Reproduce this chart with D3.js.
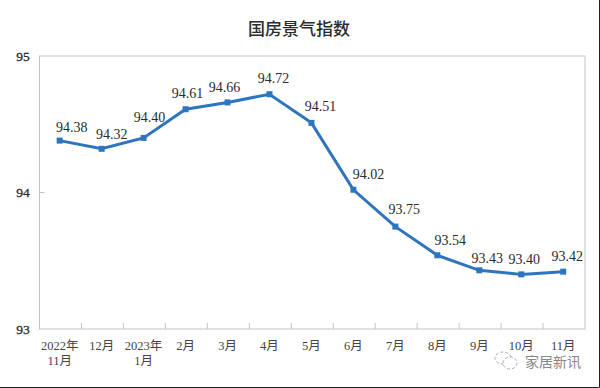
<!DOCTYPE html>
<html>
<head>
<meta charset="utf-8">
<script src="https://cdn.jsdelivr.net/npm/d3@7"></script>
<style>
    html, body { margin: 0; padding: 0; background: #fff; }
    svg { display: block; }
    text { font-family: "Liberation Serif", "Noto Sans CJK SC", serif; fill: #2b2b2b; }
</style>
</head>
<body>
<div id="chart"></div>
<script>
const title = "国房景气指数";
const categories = ["2022年|11月", "12月", "2023年|1月", "2月", "3月", "4月", "5月", "6月", "7月", "8月", "9月", "10月", "11月"];
const values = [94.38, 94.32, 94.40, 94.61, 94.66, 94.72, 94.51, 94.02, 93.75, 93.54, 93.43, 93.40, 93.42];
const yTicks = [93, 94, 95];
const watermark = "家居新讯";

// label nudges from each point
const labelDx = [12, 10, 6, 2, -3, 4, 9, 15, 9, 13, 8, 3, 4];
const labelDy = [-13, -14, -20, -16, -15, -16, -16, -15, -17, -15, -12, -15, -15];

const width = 600,
    height = 388;
const left = 39.5,
    right = 585,
    top_ = 56,
    bottom = 329;

const svg = d3.select("#chart").append("svg").attr("width", width).attr("height", height);

const x = d3.scaleBand().domain(categories).range([left, right]);
const y = d3.scaleLinear().domain([93, 95]).range([bottom, top_]);
// the original's points sit a little left of the band centre
const px = (d) => x(d) + x.bandwidth() / 2 - 0.8;

// --------------- Frame --------------- //

svg.append("rect")
    .attr("x", left).attr("y", top_)
    .attr("width", right - left).attr("height", bottom - top_)
    .attr("fill", "none").attr("stroke", "#c4c4c4").attr("stroke-width", 1);

// Photo edge of the original screenshot
svg.append("path")
    .attr("d", `M0,${height - 0.5}H${width - 0.5}V0`)
    .attr("fill", "none").attr("stroke", "#222").attr("stroke-width", 1);

// --------------- Axes --------------- //

const xAxis = svg.append("g").attr("transform", `translate(0,${bottom})`);
xAxis.selectAll("line")
    .data(categories.slice(0, -1))
    .join("line")
    .attr("x1", (d) => x(d) + x.bandwidth())
    .attr("x2", (d) => x(d) + x.bandwidth())
    .attr("y1", 0).attr("y2", -6)
    .attr("stroke", "#c4c4c4");

const xLabels = xAxis.selectAll("text")
    .data(categories)
    .join("text")
    .attr("text-anchor", "middle")
    .attr("font-size", 12.5)
    .style("fill", "#444");
xLabels.selectAll("tspan")
    .data((d) => d.split("|").map((t) => ({ t, c: d })))
    .join("tspan")
    .attr("x", (d) => px(d.c))
    .attr("y", (d, i) => 20.5 + i * 15)
    .text((d) => d.t);

svg.append("g")
    .selectAll("line")
    .data(yTicks.slice(1, -1))
    .join("line")
    .attr("x1", left).attr("x2", left + 5)
    .attr("y1", (d) => y(d)).attr("y2", (d) => y(d))
    .attr("stroke", "#c4c4c4");

svg.append("g")
    .selectAll("text")
    .data(yTicks)
    .join("text")
    .attr("x", 23)
    .attr("y", (d) => y(d) + 4.5)
    .attr("text-anchor", "middle")
    .attr("font-size", 13.5)
    .style("stroke", "#2b2b2b")
    .style("stroke-width", 0.3)
    .text((d) => d);

// --------------- Line --------------- //

const line = d3.line()
    .x((d, i) => px(categories[i]))
    .y((d) => y(d));

svg.append("path")
    .datum(values)
    .attr("d", line)
    .attr("fill", "none")
    .attr("stroke", "#2e75c0")
    .attr("stroke-width", 3);

svg.append("g")
    .selectAll("rect")
    .data(values)
    .join("rect")
    .attr("x", (d, i) => px(categories[i]) - 3)
    .attr("y", (d) => y(d) - 3)
    .attr("width", 6)
    .attr("height", 6)
    .attr("fill", "#2e75c0");

svg.append("g")
    .selectAll("text")
    .data(values)
    .join("text")
    .attr("x", (d, i) => px(categories[i]) + labelDx[i])
    .attr("y", (d, i) => y(d) + labelDy[i] + 4.5)
    .attr("text-anchor", "middle")
    .attr("font-size", 14)
    .text((d) => d.toFixed(2));

// --------------- Title and watermark --------------- //

svg.append("text")
    .attr("x", 299).attr("y", 35)
    .attr("text-anchor", "middle")
    .attr("font-size", 17)
    .attr("font-weight", 500)
    .style("font-family", '"Noto Sans CJK SC", sans-serif')
    .text(title);

// WeChat style badge next to the watermark
const badge = svg.append("g")
    .attr("fill", "#fff").attr("stroke", "#aaa").attr("stroke-dasharray", "3 2");
badge.append("ellipse").attr("cx", 503).attr("cy", 358).attr("rx", 8).attr("ry", 6);
badge.append("ellipse").attr("cx", 510).attr("cy", 363).attr("rx", 7).attr("ry", 6);

svg.append("text")
    .attr("x", 581).attr("y", 367)
    .attr("text-anchor", "end")
    .attr("font-size", 14)
    .style("font-family", '"Noto Sans CJK SC", sans-serif')
    .style("fill", "#888")
    .text(watermark);
</script>
</body>
</html>
